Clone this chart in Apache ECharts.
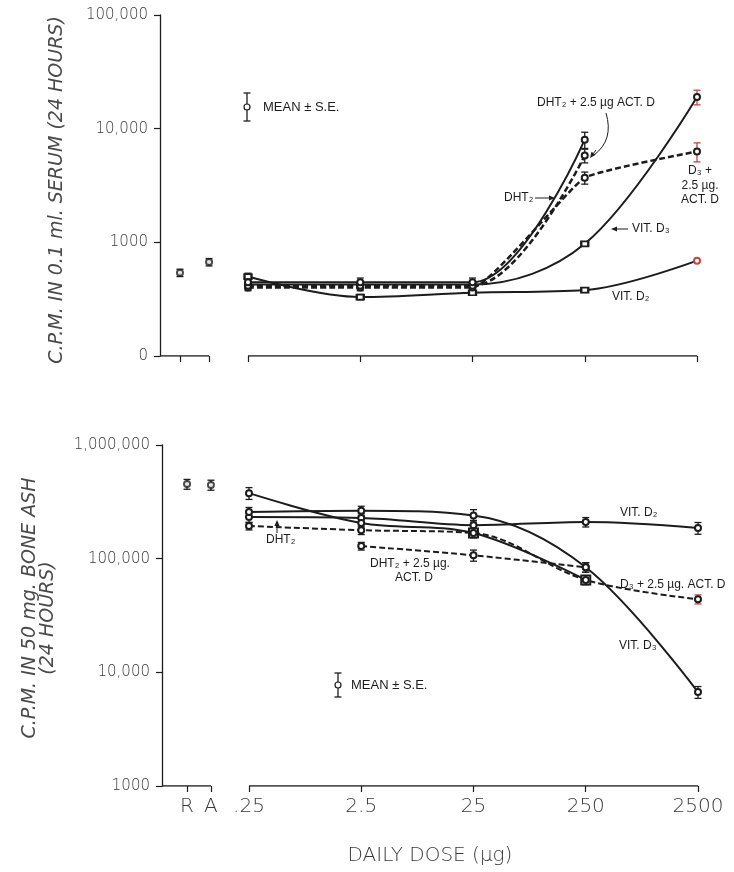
<!DOCTYPE html>
<html>
<head>
<meta charset="utf-8">
<script src="https://cdn.jsdelivr.net/npm/echarts@6/dist/echarts.min.js"></script>
<style>
  html, body { margin: 0; padding: 0; background: #fff; }
  #chart { width: 734px; height: 872px; }
</style>
</head>
<body>
<div id="chart"></div>
<script>
// Daily doses (µg) on a log-dose axis, plus the two control groups
const doses = [0.25, 2.5, 25, 250, 2500];
const doseLabels = ['.25', '2.5', '25', '250', '2500'];
const controlLabels = ['R', 'A'];

// Serum radioactivity, c.p.m. in 0.1 ml serum (24 hours)
const serumControl = [540, 670];
const serumControlSE = [40, 50];
const serumVitD2 = [500, 330, 360, 380, 690];
const serumVitD2SE = [35, 18, 18, 18, 0];
const serumVitD3 = [425, 425, 425, 970, 19000];
const serumVitD3SE = [25, 25, 25, 45, 2800];
const serumDHT2 = [445, 445, 445, 8000];
const serumDHT2SE = [30, 40, 40, 1300];
const serumDHT2Act = [415, 415, 415, 5800];
const serumDHT2ActSE = [25, 25, 25, 800];
const serumD3Act = [400, 400, 400, 3700, 6300];
const serumD3ActSE = [25, 25, 25, 450, 1200];

// Bone radioactivity, c.p.m. in 50 mg bone ash (24 hours)
const boneControl = [453000, 445000];
const boneControlSE = [45000, 45000];
const boneVitD2 = [232000, 228000, 197000, 210000, 186000];
const boneVitD2SE = [25000, 20000, 20000, 20000, 22000];
const boneVitD3 = [257000, 264000, 240000, 84000, 6700];
const boneVitD3SE = [25000, 25000, 30000, 8000, 800];
const boneDHT2 = [377000, 206000, 168000, 65000];
const boneDHT2SE = [45000, 20000, 15000, 6000];
const boneDHT2Act = [null, 129000, 107000, 84000];
const boneDHT2ActSE = [0, 10000, 12000, 8000];
const boneD3Act = [194000, 178000, 168000, 65000, 44000];
const boneD3ActSE = [15000, 15000, 15000, 5000, 4000];

// ---- layout ----
const INK = '#1c1c1c';
const RED = '#c4463c';
const dosePos = d => Math.log10(d / doses[0]);       // one unit per decade, .25 at 0
const doseTickPos = doses.map(dosePos);
const serumControlPos = [-0.606, -0.347];
const boneControlPos = [-0.552, -0.339];
const serumXMin = -0.784, boneXMin = -0.775, xMax = 4;

const labelFont = "'DejaVu Sans', sans-serif";
const noteFont = "'Liberation Sans', 'DejaVu Sans', sans-serif";

function fmtY(v) {
  v = Math.round(v);
  if (v === 100) return '0';
  if (v < 10000) return String(v);
  return v.toLocaleString('en-US');
}

function curve(values, gi, o) {
  const data = [];
  values.forEach((v, i) => {
    if (v == null) return;
    const item = { value: [doseTickPos[i], v] };
    if (o.symbols && o.symbols[i]) item.symbol = o.symbols[i];
    if (o.symbolSizes && o.symbolSizes[i]) item.symbolSize = o.symbolSizes[i];
    if (o.pointColors && o.pointColors[i]) item.itemStyle = { color: o.pointColors[i], borderColor: o.pointColors[i] };
    data.push(item);
  });
  return {
    type: 'line', xAxisIndex: gi, yAxisIndex: gi, silent: true, z: 4,
    smooth: o.smooth != null ? o.smooth : 0.35,
    symbol: o.symbol || 'emptyCircle', symbolSize: o.symbolSize || 6,
    itemStyle: { color: INK, borderColor: INK, borderWidth: 1.2 },
    lineStyle: { color: INK, width: o.width || 2, type: o.dash ? [6, 3] : 'solid' },
    data
  };
}

function errorBars(xs, values, se, gi, colors) {
  const data = [];
  values.forEach((v, i) => {
    if (v == null || !se[i]) return;
    const item = { value: [xs[i], v - se[i], v + se[i]] };
    if (colors && colors[i]) item.itemStyle = { color: colors[i] };
    data.push(item);
  });
  return {
    type: 'custom', xAxisIndex: gi, yAxisIndex: gi, silent: true, z: 2,
    itemStyle: { color: INK },
    encode: { x: 0, y: [1, 2] },
    data,
    renderItem(params, api) {
      const x = api.value(0);
      const lo = api.coord([x, api.value(1)]);
      const hi = api.coord([x, api.value(2)]);
      const w = 3.5;
      const style = { stroke: api.visual('color'), lineWidth: 1.3, fill: null };
      return {
        type: 'group',
        children: [
          { type: 'line', shape: { x1: lo[0], y1: lo[1], x2: hi[0], y2: hi[1] }, style },
          { type: 'line', shape: { x1: lo[0] - w, y1: lo[1], x2: lo[0] + w, y2: lo[1] }, style },
          { type: 'line', shape: { x1: hi[0] - w, y1: hi[1], x2: hi[0] + w, y2: hi[1] }, style }
        ]
      };
    }
  };
}

function axisSegment(gi, x0, x1, y) {
  return {
    type: 'line', xAxisIndex: gi, yAxisIndex: gi, silent: true, z: 1,
    symbol: 'none', lineStyle: { color: INK, width: 1.3 },
    data: [[x0, y], [x1, y]]
  };
}

function controls(xs, values, gi) {
  return {
    type: 'scatter', xAxisIndex: gi, yAxisIndex: gi, silent: true, z: 4,
    symbol: 'emptyCircle', symbolSize: 6,
    itemStyle: { color: INK, borderColor: INK, borderWidth: 1.2 },
    data: values.map((v, i) => [xs[i], v])
  };
}

function xAxisFor(gi, xMin, ctrlPos, showLabels) {
  const ticks = ctrlPos.concat(doseTickPos);
  const names = controlLabels.concat(doseLabels);
  return {
    type: 'value', gridIndex: gi, min: xMin, max: xMax,
    axisLine: { show: false, onZero: false },
    splitLine: { show: false },
    axisTick: { show: true, customValues: ticks, length: 6, lineStyle: { color: INK, width: 1.2 } },
    axisLabel: {
      show: showLabels, customValues: ticks, margin: 11,
      fontFamily: labelFont, fontSize: 20, color: '#3a3a3a', fontWeight: 300,
      formatter: v => {
        const k = ticks.findIndex(t => Math.abs(t - v) < 1e-6);
        return k >= 0 ? names[k] : '';
      }
    },
    name: showLabels ? 'DAILY DOSE (µg)' : '',
    nameLocation: 'middle', nameGap: 60,
    nameTextStyle: { fontFamily: labelFont, fontSize: 20, color: '#3a3a3a', fontWeight: 300 }
  };
}

function yAxisFor(gi, min, max) {
  return {
    type: 'log', logBase: 10, gridIndex: gi, min, max, position: 'left',
    axisLine: { show: true, onZero: false, lineStyle: { color: INK, width: 1.3 } },
    axisTick: { show: true, length: 6, lineStyle: { color: INK, width: 1.2 } },
    splitLine: { show: false },
    minorTick: { show: false },
    axisLabel: {
      margin: 12, fontFamily: labelFont, fontSize: 15, color: '#3a3a3a', fontWeight: 300,
      formatter: fmtY
    }
  };
}

const S = 0, B = 1;
const series = [
  // axis baselines, broken between the controls and the dose range
  axisSegment(S, serumXMin, serumControlPos[1], 100),
  axisSegment(S, 0, xMax, 100),
  axisSegment(B, boneXMin, boneControlPos[1], 1000),
  axisSegment(B, 0, xMax, 1000),

  // serum
  errorBars(serumControlPos, serumControl, serumControlSE, S),
  controls(serumControlPos, serumControl, S),
  errorBars(doseTickPos, serumVitD2, serumVitD2SE, S),
  errorBars(doseTickPos, serumVitD3, serumVitD3SE, S, [null, null, null, null, RED]),
  errorBars(doseTickPos, serumDHT2, serumDHT2SE, S),
  errorBars(doseTickPos, serumDHT2Act, serumDHT2ActSE, S),
  errorBars(doseTickPos, serumD3Act, serumD3ActSE, S, [null, null, null, null, RED]),
  curve(serumVitD2, S, { symbol: 'emptyRect', symbolSize: [7, 5],
    symbols: [null, null, null, null, 'emptyCircle'], symbolSizes: [null, null, null, null, 6],
    pointColors: [null, null, null, null, RED] }),
  curve(serumVitD3, S, { symbols: [null, null, null, 'emptyRect', null], symbolSizes: [null, null, null, [7, 5], null] }),
  curve(serumD3Act, S, { dash: true, width: 2.5, smooth: 0.12 }),
  curve(serumDHT2Act, S, { dash: true, width: 2.5 }),
  curve(serumDHT2, S, {}),

  // bone
  errorBars(boneControlPos, boneControl, boneControlSE, B),
  controls(boneControlPos, boneControl, B),
  errorBars(doseTickPos, boneVitD2, boneVitD2SE, B),
  errorBars(doseTickPos, boneVitD3, boneVitD3SE, B),
  errorBars(doseTickPos, boneDHT2, boneDHT2SE, B),
  errorBars(doseTickPos, boneDHT2Act, boneDHT2ActSE, B),
  errorBars(doseTickPos, boneD3Act, boneD3ActSE, B, [null, null, null, null, RED]),
  curve(boneVitD2, B, {}),
  curve(boneVitD3, B, {}),
  curve(boneDHT2, B, { symbols: [null, null, 'emptyRect', 'emptyRect'], symbolSizes: [null, null, 9, 9] }),
  curve(boneD3Act, B, { dash: true, width: 2 }),
  curve(boneDHT2Act, B, { dash: true, width: 2 })
];

// ---- annotations ----
function note(text, x, y, align, size) {
  return {
    type: 'text', x, y, z: 10, silent: true,
    style: { text, fill: INK, font: `${size || 12}px ${noteFont}`, align: align || 'left', verticalAlign: 'middle' }
  };
}
function arrow(x1, y1, x2, y2) {
  const a = Math.atan2(y2 - y1, x2 - x1), L = 6, W = 2.6;
  const bx = x2 - L * Math.cos(a), by = y2 - L * Math.sin(a);
  return [
    { type: 'line', z: 10, silent: true, shape: { x1, y1, x2: bx, y2: by }, style: { stroke: INK, lineWidth: 1 } },
    { type: 'polygon', z: 10, silent: true, shape: { points: [[x2, y2],
      [bx + W * Math.sin(a), by - W * Math.cos(a)], [bx - W * Math.sin(a), by + W * Math.cos(a)]] },
      style: { fill: INK } }
  ];
}
function keyGlyph(x, y, half, textX) {
  const st = { stroke: INK, lineWidth: 1.3 };
  return [
    { type: 'line', z: 10, silent: true, shape: { x1: x, y1: y - half, x2: x, y2: y + half }, style: st },
    { type: 'line', z: 10, silent: true, shape: { x1: x - 3.5, y1: y - half, x2: x + 3.5, y2: y - half }, style: st },
    { type: 'line', z: 10, silent: true, shape: { x1: x - 3.5, y1: y + half, x2: x + 3.5, y2: y + half }, style: st },
    { type: 'circle', z: 11, silent: true, shape: { cx: x, cy: y, r: 3 }, style: { fill: '#fff', stroke: INK, lineWidth: 1.2 } },
    note('MEAN ± S.E.', textX, y, 'left', 13)
  ];
}
function rotated(text, x, y, size) {
  return {
    type: 'text', x, y, rotation: Math.PI / 2, z: 10, silent: true,
    style: { text, fill: '#4a4a4a', font: `italic 300 ${size}px ${labelFont}`, align: 'center', verticalAlign: 'middle' }
  };
}

const curvedLead = {
  type: 'bezierCurve', z: 10, silent: true,
  shape: { x1: 606, y1: 113, cpx1: 614, cpy1: 140, x2: 594, y2: 155 },
  style: { stroke: INK, lineWidth: 1, fill: null }
};

const graphic = [
  rotated('C.P.M. IN 0.1 ml. SERUM (24 HOURS)', 57, 190, 19),
  rotated('C.P.M. IN 50 mg. BONE ASH', 30, 608, 19),
  rotated('(24 HOURS)', 48, 618, 19),

  // serum panel
  ...keyGlyph(247, 107, 14, 263),
  note('DHT₂ + 2.5 µg ACT. D', 537, 103),
  curvedLead,
  ...arrow(596, 150, 590, 158),
  note('DHT₂', 504, 198),
  ...arrow(535, 198, 555, 198),
  ...arrow(628, 229, 611, 229),
  note('VIT. D₃', 632, 229),
  note('VIT. D₂', 612, 297),
  note('D₃ +', 700, 171, 'center'),
  note('2.5 µg.', 700, 186, 'center'),
  note('ACT. D', 700, 200, 'center'),

  // bone panel
  ...keyGlyph(338, 685, 12, 351),
  note('VIT. D₂', 620, 513),
  note('DHT₂ + 2.5 µg.', 370, 564),
  note('ACT. D', 395, 578),
  note('D₃ + 2.5 µg. ACT. D', 620, 585),
  note('VIT. D₃', 619, 646),
  note('DHT₂', 266, 540),
  ...arrow(277, 533, 277, 520)
];

const option = {
  backgroundColor: '#ffffff',
  animation: false,
  grid: [
    { left: 160, top: 15, width: 537, height: 341 },
    { left: 162, top: 445, width: 536, height: 341 }
  ],
  xAxis: [
    xAxisFor(S, serumXMin, serumControlPos, false),
    xAxisFor(B, boneXMin, boneControlPos, true)
  ],
  yAxis: [
    yAxisFor(S, 100, 100000),
    yAxisFor(B, 1000, 1000000)
  ],
  series,
  graphic
};

const chart = echarts.init(document.getElementById('chart'), null, { renderer: 'canvas' });
chart.setOption(option);
</script>
</body>
</html>
